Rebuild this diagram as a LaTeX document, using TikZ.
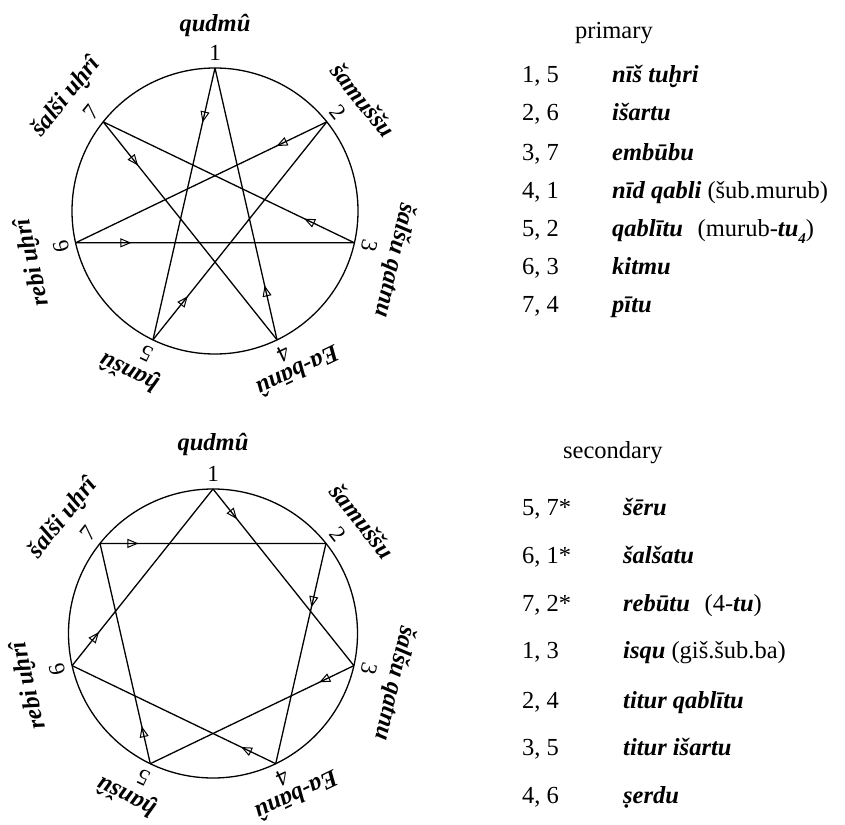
\documentclass[tikz,border=0pt]{standalone}
\usepackage{fontspec}
\setmainfont{Liberation Serif}
\usetikzlibrary{arrows.meta,decorations.markings}
\newcommand{\bi}[1]{\textbf{\textit{#1}}}
\newcommand{\subfour}{\raisebox{-0.3em}{\fontsize{15}{15}\selectfont\bi{4}}}
\begin{document}
\begin{tikzpicture}[x=1pt,y=1pt,
  edge/.style={line width=1.3pt},
  flow/.style={postaction={decorate},decoration={markings,mark=at position #1 with {\arrow{Triangle[open,length=11pt,width=9pt,line width=1pt]}}}},
  num/.style={font=\fontsize{23}{25}\selectfont, inner sep=0pt},
  lab/.style={font=\fontsize{24.5}{27}\selectfont\bfseries\itshape, inner sep=0pt},
  tab/.style={font=\fontsize{24.5}{27}\selectfont, inner sep=0pt, anchor=base west},
]
\useasboundingbox (0,0) rectangle (845,-824);
% ---------- top circle (primary) ----------
\coordinate (c1) at (215,-211);
\draw[edge] (c1) circle[radius=143];
\foreach \i/\da/\rr/\nm in {1/0/186/{qudmû},2/-1.7/185/{šamuššu},3/-2.5/186/{šalšu qatnu},4/1.6/181/{Ea-bānû},5/-2.3/182/{ḫanšû},6/3/189/{rebi uḫrî},7/1/187/{šalši uḫrî}}{
  \pgfmathsetmacro\ang{90-(\i-1)*360/7}
  \pgfmathsetmacro\rot{\ang-90}
  \pgfmathsetmacro\lang{\ang+\da}
  \path (c1) ++(\ang:143) coordinate (t\i);
  \path (c1) ++(\ang:158) node[num,rotate=\rot] (tn\i) {\i};
  \path (c1) ++(\lang:\rr) node[lab,rotate=\rot] (tl\i) {\nm};
}
\draw[edge,flow=0.2] (t1) -- (t5);
\draw[edge,flow=0.2] (t2) -- (t6);
\draw[edge,flow=0.2] (t3) -- (t7);
\draw[edge,flow=0.2] (t4) -- (t1);
\draw[edge,flow=0.2] (t5) -- (t2);
\draw[edge,flow=0.2] (t6) -- (t3);
\draw[edge,flow=0.2] (t7) -- (t4);
% ---------- bottom circle (secondary) ----------
\coordinate (c2) at (213,-633.5);
\draw[edge] (c2) circle[radius=144.5];
\foreach \i/\da/\rr/\nm in {1/0/189/{qudmû},2/-1.7/187/{šamuššu},3/-2.5/188/{šalšu qatnu},4/1.6/183/{Ea-bānû},5/-2.3/184/{ḫanšû},6/3/191/{rebi uḫrî},7/1/189/{šalši uḫrî}}{
  \pgfmathsetmacro\ang{90-(\i-1)*360/7}
  \pgfmathsetmacro\rot{\ang-90}
  \pgfmathsetmacro\lang{\ang+\da}
  \path (c2) ++(\ang:144.5) coordinate (b\i);
  \path (c2) ++(\ang:160) node[num,rotate=\rot] (bn\i) {\i};
  \path (c2) ++(\lang:\rr) node[lab,rotate=\rot] (bl\i) {\nm};
}
\draw[edge,flow=0.17] (b1) -- (b3);
\draw[edge,flow=0.29] (b2) -- (b4);
\draw[edge,flow=0.17] (b3) -- (b5);
\draw[edge,flow=0.17] (b4) -- (b6);
\draw[edge,flow=0.17] (b5) -- (b7);
\draw[edge,flow=0.19] (b6) -- (b1);
\draw[edge,flow=0.17] (b7) -- (b2);
% ---------- primary table ----------
\node[tab] (ph) at (575,-39) {primary};
\node[tab] (p1a) at (522,-83) {1, 5};  \node[tab] (p1b) at (612,-83) {\bi{nīš tuḫri}};
\node[tab] (p2a) at (522,-121) {2, 6}; \node[tab] (p2b) at (612,-121) {\bi{išartu}};
\node[tab] (p3a) at (522,-160) {3, 7}; \node[tab] (p3b) at (612,-160) {\bi{embūbu}};
\node[tab] (p4a) at (522,-198) {4, 1}; \node[tab] (p4b) at (612,-198) {\bi{nīd qabli} (šub.murub)};
\node[tab] (p5a) at (522,-236) {5, 2}; \node[tab] (p5b) at (612,-236) {\bi{qablītu}\hspace{0.6em}(murub-\bi{tu}\subfour)};
\node[tab] (p6a) at (522,-274) {6, 3}; \node[tab] (p6b) at (612,-274) {\bi{kitmu}};
\node[tab] (p7a) at (522,-312) {7, 4}; \node[tab] (p7b) at (612,-312) {\bi{pītu}};
% ---------- secondary table ----------
\node[tab] (sh) at (563,-458) {secondary};
\node[tab] (s1a) at (522,-515) {5, 7*}; \node[tab] (s1b) at (623,-515) {\bi{šēru}};
\node[tab] (s2a) at (522,-563) {6, 1*}; \node[tab] (s2b) at (623,-563) {\bi{šalšatu}};
\node[tab] (s3a) at (522,-611) {7, 2*}; \node[tab] (s3b) at (623,-611) {\bi{rebūtu}\hspace{0.6em}(4-\bi{tu})};
\node[tab] (s4a) at (522,-658) {1, 3};  \node[tab] (s4b) at (623,-658) {\bi{isqu} (giš.šub.ba)};
\node[tab] (s5a) at (522,-708) {2, 4};  \node[tab] (s5b) at (623,-708) {\bi{titur qablītu}};
\node[tab] (s6a) at (522,-755) {3, 5};  \node[tab] (s6b) at (623,-755) {\bi{titur išartu}};
\node[tab] (s7a) at (522,-803) {4, 6};  \node[tab] (s7b) at (623,-803) {\bi{ṣerdu}};
\end{tikzpicture}
\end{document}
